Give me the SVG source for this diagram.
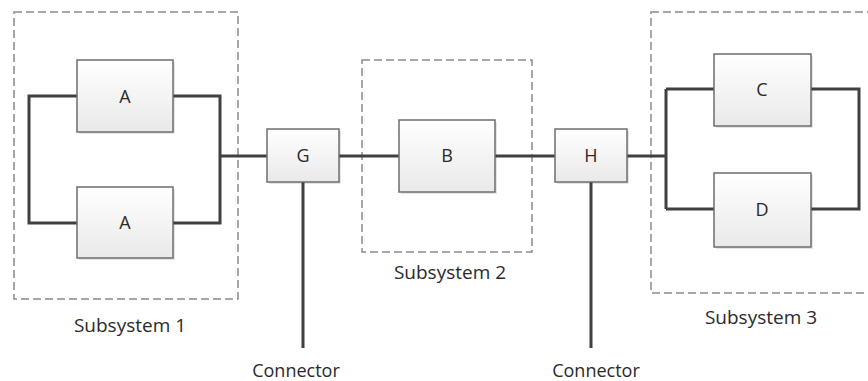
<svg xmlns="http://www.w3.org/2000/svg" width="868" height="381" viewBox="0 0 868 381">
<style>
.sub{fill:none;stroke:#8a8a8a;stroke-width:1.5;stroke-dasharray:8,4}
.box{fill:url(#g);stroke:#6e6e6e;stroke-width:1.5}
.sh{fill:#000;opacity:0.1}
.lbl{font-family:"Open Sans","Liberation Sans",sans-serif;font-size:18px;fill:#2a2a2a;text-anchor:middle}
.cap{font-family:"Open Sans","Liberation Sans",sans-serif;font-size:19px;fill:#2a2a2a;text-anchor:middle}
.con{font-family:"Open Sans","Liberation Sans",sans-serif;font-size:18px;fill:#2a2a2a;text-anchor:middle}
.wire{fill:none;stroke:#404040;stroke-width:3}
</style>
<defs>
<linearGradient id="g" x1="0" y1="0" x2="0" y2="1">
<stop offset="0" stop-color="#ffffff"/>
<stop offset="1" stop-color="#e9e9e9"/>
</linearGradient>
</defs>
<rect width="868" height="381" fill="#fff"/>
<g id="subsystem1"><rect class="sub" x="14" y="12" width="224" height="287"/><text class="cap" x="130" y="332">Subsystem 1</text></g>
<g id="subsystem2"><rect class="sub" x="362" y="60" width="170" height="192"/><text class="cap" x="450" y="279">Subsystem 2</text></g>
<g id="subsystem3"><rect class="sub" x="651" y="12" width="230" height="281"/><text class="cap" x="761" y="324">Subsystem 3</text></g>
<g id="connectors">
<path class="wire" d="M77 96H29V223H77M173 96H220V223H173M220 156H267M339 156H399M495 156H555M627 156H666M666 89V209M666 89H714M666 209H714M811 89H859V209H811M303 182V348M591 182V348"/>
</g>
<g id="A1"><rect class="sh" x="79" y="62" width="96" height="72"/><rect class="box" x="77" y="60" width="96" height="72"/><text class="lbl" x="125" y="102.5">A</text></g>
<g id="A2"><rect class="sh" x="79" y="189" width="96" height="71"/><rect class="box" x="77" y="187" width="96" height="71"/><text class="lbl" x="125" y="229">A</text></g>
<g id="G"><rect class="sh" x="269" y="131" width="72" height="53"/><rect class="box" x="267" y="129" width="72" height="53"/><text class="lbl" x="303" y="162">G</text></g>
<g id="B"><rect class="sh" x="401" y="122" width="96" height="72"/><rect class="box" x="399" y="120" width="96" height="72"/><text class="lbl" x="447" y="162">B</text></g>
<g id="H"><rect class="sh" x="557" y="131" width="72" height="53"/><rect class="box" x="555" y="129" width="72" height="53"/><text class="lbl" x="591" y="162">H</text></g>
<g id="C"><rect class="sh" x="716" y="56" width="97" height="72"/><rect class="box" x="714" y="54" width="97" height="72"/><text class="lbl" x="762" y="96">C</text></g>
<g id="D"><rect class="sh" x="716" y="175" width="97" height="74"/><rect class="box" x="714" y="173" width="97" height="74"/><text class="lbl" x="762" y="216">D</text></g>
<g id="connector1"><text class="con" x="296" y="377">Connector</text></g>
<g id="connector2"><text class="con" x="596" y="377">Connector</text></g>
</svg>
